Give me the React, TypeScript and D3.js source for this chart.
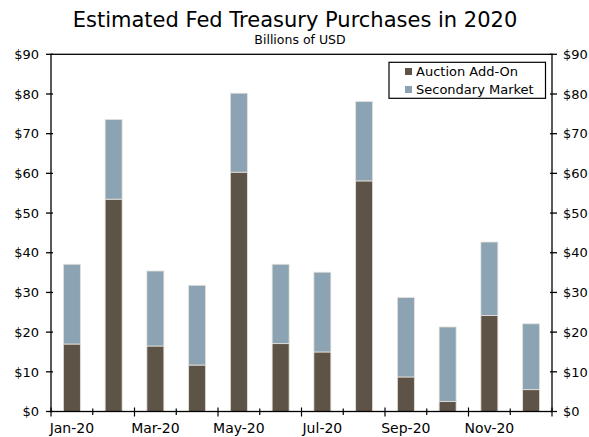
import React from "react";
import * as d3 from "d3";

const months = ["Jan-20","Feb-20","Mar-20","Apr-20","May-20","Jun-20","Jul-20","Aug-20","Sep-20","Oct-20","Nov-20","Dec-20"];
const auctionAddOn = [17.0, 53.5, 16.5, 11.7, 60.3, 17.1, 15.0, 58.1, 8.7, 2.5, 24.2, 5.5];
const totalPurchases = [37.1, 73.6, 35.4, 31.8, 80.2, 37.1, 35.1, 78.1, 28.7, 21.3, 42.7, 22.1];
const secondaryMarket = totalPurchases.map((t, i) => +(t - auctionAddOn[i]).toFixed(1));
const yTicks = [0, 10, 20, 30, 40, 50, 60, 70, 80, 90];
const labeledMonths = ["Jan-20","Mar-20","May-20","Jul-20","Sep-20","Nov-20"];
const seriesNames = ["Auction Add-On", "Secondary Market"];
const colors = ["#5e5347", "#8ba3b3"];

export default function App() {
  const W = 589, H = 437;
  const left = 51, right = 552, top = 54.3, bottom = 411.5;
  const x = d3.scaleBand<string>().domain(months).range([left, right]).paddingInner(0.593).paddingOuter(0.2965);
  const xb = d3.scaleBand<string>().domain(months).range([left, right]);
  const y = d3.scaleLinear().domain([0, 90]).range([bottom, top]);
  const font = "'DejaVu Sans', Verdana, sans-serif";
  const stacked = d3.stack<number>().keys([0, 1] as any).value((i: any, k: any) => (k === 0 ? auctionAddOn[i] : secondaryMarket[i]))(months.map((_, i) => i) as any);

  return (
    <svg width={W} height={H} style={{ position: "absolute", left: 0, top: 0, background: "#fff" }} fontFamily={font}>
      <text x={295} y={27} textAnchor="middle" fontSize={21} fill="#000">Estimated Fed Treasury Purchases in 2020</text>
      <text x={300} y={43.5} textAnchor="middle" fontSize={12.5} fill="#000">Billions of USD</text>
      {stacked.map((s, si) => (
        <g key={si}>
          {s.map((d: any, i: number) => (
            <rect key={i} x={x(months[i])!} width={x.bandwidth()} y={y(d[1])} height={y(d[0]) - y(d[1])}
              fill={colors[si]} stroke="#e6e2dc" strokeWidth={0.8} />
          ))}
        </g>
      ))}
      <rect x={left} y={top} width={right - left} height={bottom - top} fill="none" stroke="#000" strokeWidth={1.3} />
      {yTicks.map(t => (
        <g key={t}>
          <line x1={left - 5} x2={left + 2} y1={y(t)} y2={y(t)} stroke="#000" strokeWidth={1.3} />
          <line x1={right - 2} x2={right + 5} y1={y(t)} y2={y(t)} stroke="#000" strokeWidth={1.3} />
          <text x={left - 12} y={y(t) + 4.7} textAnchor="end" fontSize={13} fill="#000">${t}</text>
          <text x={right + 11} y={y(t) + 4.7} textAnchor="start" fontSize={13} fill="#000">${t}</text>
        </g>
      ))}
      {months.map((m, i) => {
        const bx = xb(m)!;
        const major = i % 2 === 0;
        return <line key={m} x1={bx} x2={bx} y1={bottom - (major ? 4 : 3)} y2={bottom + (major ? 5 : 3.5)} stroke="#000" strokeWidth={1.2} />;
      })}
      <line x1={right} x2={right} y1={bottom - 4} y2={bottom + 5} stroke="#000" strokeWidth={1.2} />
      {labeledMonths.map(m => (
        <text key={m} x={xb(m)! + xb.bandwidth() / 2} y={433} textAnchor="middle" fontSize={14} fill="#000">{m}</text>
      ))}
      <g>
        <rect x={389} y={62.3} width={156.5} height={36} fill="#fff" stroke="#000" strokeWidth={1.2} />
        {seriesNames.map((n, i) => (
          <g key={n}>
            <rect x={405} y={68 + i * 18} width={7} height={7} fill={colors[i]} />
            <text x={416} y={76 + i * 18} fontSize={13} fill="#000">{n}</text>
          </g>
        ))}
      </g>
    </svg>
  );
}
